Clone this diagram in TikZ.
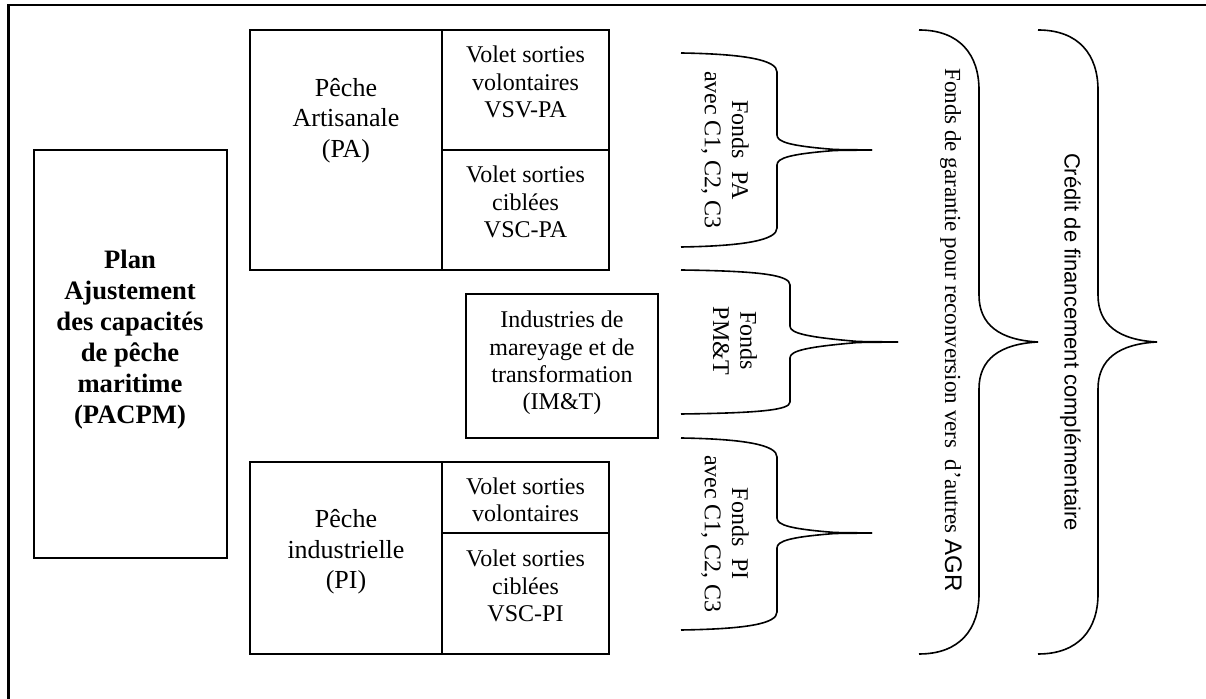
\documentclass[tikz,border=0pt]{standalone}
\usepackage{fontspec}
\setmainfont{Liberation Serif}
\newfontfamily\arialf{Liberation Sans}
\begin{document}
\begin{tikzpicture}[x=0.5pt,y=-0.5pt,
  boxline/.style={line width=1pt},
  frameline/.style={line width=1.4pt},
  bracel/.style={line width=0.8pt, line join=round},
  txt/.style={align=center, inner sep=0pt, font=\fontsize{12pt}{13.6pt}\selectfont},
  bigtxt/.style={align=center, inner sep=0pt, font=\fontsize{13pt}{15.3pt}\selectfont},
  boldtxt/.style={align=center, inner sep=0pt, font=\bfseries\fontsize{13.3pt}{15.5pt}\selectfont},
  rottxt/.style={align=center, inner sep=0pt, rotate=-90, font=\fontsize{12pt}{13.6pt}\selectfont}]
\useasboundingbox (0,0) rectangle (1206,699);
% outer frame (cut by the picture edges)
\draw[frameline] (8.5,699) -- (8.5,5) -- (1206,5);
% PACPM
\draw[boxline] (34,150) rectangle (227,558);
\node[boldtxt] (pacpm) at (130,340) {Plan\\Ajustement\\des capacités\\de pêche\\maritime\\(PACPM)};
% PA block
\draw[boxline] (250,30) rectangle (609,270);
\draw[boxline] (442,30) -- (442,270);
\draw[boxline] (442,150) -- (609,150);
\node[bigtxt] (pa) at (346,120.5) {Pêche\\Artisanale\\(PA)};
\node[txt] (vsvpa) at (525.5,82) {Volet sorties\\volontaires\\VSV-PA};
\node[txt] (vscpa) at (525.5,202) {Volet sorties\\ciblées\\VSC-PA};
% IM&T
\draw[boxline] (466,294) rectangle (658,438);
\node[txt] (imt) at (562,363) {Industries de\\mareyage et de\\transformation\\(IM\&T)};
% PI block
\draw[boxline] (250,462) rectangle (609,654);
\draw[boxline] (442,462) -- (442,654);
\draw[boxline] (442,533) -- (609,533);
\node[bigtxt] (pi) at (346,552) {Pêche\\industrielle\\(PI)};
\node[txt] (vsvpi) at (525.5,500) {Volet sorties\\volontaires};
\node[txt] (vscpi) at (525.5,586) {Volet sorties\\ciblées\\VSC-PI};
% small braces
\draw[bracel] (681,53) .. controls (745,54) and (777,60) .. (777,72) -- (777,135)
  .. controls (777,142) and (790,146) .. (835,149.5) -- (872,150);
\draw[bracel] (872,150) -- (835,150.5) .. controls (790,154) and (777,158) .. (777,165)
  -- (777,228) .. controls (777,240) and (745,246) .. (681,247);
\draw[bracel] (681,270) .. controls (760,271) and (790,275) .. (790,285) -- (790,326)
  .. controls (790,333) and (805,337) .. (858,341.5) -- (898,342);
\draw[bracel] (898,342) -- (858,342.5) .. controls (805,347) and (790,351) .. (790,358)
  -- (790,402) .. controls (790,410) and (760,413) .. (681,414);
\draw[bracel] (681,438) .. controls (745,439) and (777,445) .. (777,457) -- (777,518)
  .. controls (777,525) and (790,529) .. (835,532.5) -- (872,533);
\draw[bracel] (872,533) -- (835,533.5) .. controls (790,537) and (777,541) .. (777,548)
  -- (777,612) .. controls (777,624) and (745,629) .. (681,630);
% big braces
\foreach \dx in {0,119}{
\begin{scope}[shift={(\dx,0)}]
\draw[bracel] (919,30) .. controls (960,30) and (979,55) .. (979,90) -- (979,295)
  .. controls (979,325) and (1000,340) .. (1038,342);
\draw[bracel] (1038,342) .. controls (1000,344) and (979,359) .. (979,389) -- (979,594)
  .. controls (979,629) and (960,654) .. (919,654);
\end{scope}}
% rotated labels
\node[rottxt] (fpa) at (725,150) {Fonds~~PA\\avec C1, C2, C3};
\node[rottxt] (fpmt) at (735,341) {Fonds\\PM\&T};
\node[rottxt] (fpi) at (725,534) {Fonds~~PI\\avec C1, C2, C3};
\node[rottxt, font=\fontsize{11.5pt}{13pt}\selectfont] (fgar) at (951,330) {Fonds de garantie pour reconversion vers~~d’autres {\arialf\fontsize{12pt}{14pt}\selectfont AGR}};
\node[rottxt, font=\arialf\fontsize{11pt}{13pt}\selectfont] (credit) at (1070.5,342) {Crédit de financement complémentaire};
\end{tikzpicture}
\end{document}
